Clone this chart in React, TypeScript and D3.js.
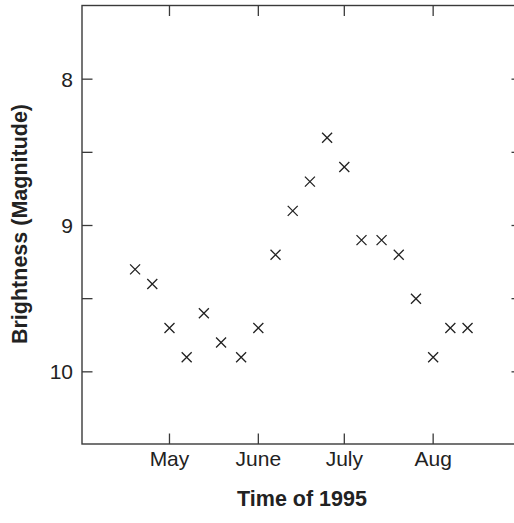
import React, { useEffect, useRef } from "react";
import * as d3 from "d3";

const obsDates = [
  "1995-04-19", "1995-04-25", "1995-05-01", "1995-05-07", "1995-05-13",
  "1995-05-19", "1995-05-26", "1995-06-01", "1995-06-07", "1995-06-13",
  "1995-06-19", "1995-06-25", "1995-07-01", "1995-07-07", "1995-07-14",
  "1995-07-20", "1995-07-26", "1995-08-01", "1995-08-07", "1995-08-13"
];
const magnitudes = [
  9.3, 9.4, 9.7, 9.9, 9.6, 9.8, 9.9, 9.7, 9.2, 8.9,
  8.7, 8.4, 8.6, 9.1, 9.1, 9.2, 9.5, 9.9, 9.7, 9.7
];
const monthTicks = ["1995-05-01", "1995-06-01", "1995-07-01", "1995-08-01"];
const monthLabels = ["May", "June", "July", "Aug"];
const magTicks = [8, 8.5, 9, 9.5, 10];
const magLabels = ["8", "", "9", "", "10"];

const W = 514;
const H = 523;
const FONT = "'Liberation Sans', Arial, Helvetica, sans-serif";
const INK = "#222";
const FRAME = "#3a3a3a";

const App = () => {
  const ref = useRef<SVGSVGElement>(null);

  useEffect(() => {
    const svg = d3.select(ref.current);
    svg.selectAll("*").remove();

    const parse = d3.timeParse("%Y-%m-%d");
    const left = 82, top = 5.5, right = 522, bottom = 444;

    const x = d3
      .scaleTime()
      .domain([parse("1995-04-01")!, parse("1995-09-01")!])
      .range([83.5, 522]);
    const y = d3.scaleLinear().domain([7.5, 10.5]).range([6, 445]);

    const tickLen = 10.5;

    // frame
    svg
      .append("rect")
      .attr("x", left)
      .attr("y", top)
      .attr("width", right - left)
      .attr("height", bottom - top)
      .attr("fill", "none")
      .attr("stroke", FRAME)
      .attr("stroke-width", 1.4);

    const ticks = svg.append("g").attr("stroke", FRAME).attr("stroke-width", 1.3);

    // month ticks, top and bottom, pointing inward
    monthTicks.forEach(m => {
      const px = x(parse(m)!);
      ticks.append("line").attr("x1", px).attr("x2", px).attr("y1", bottom).attr("y2", bottom - tickLen);
      ticks.append("line").attr("x1", px).attr("x2", px).attr("y1", top).attr("y2", top + tickLen);
    });

    // magnitude ticks, left and right
    magTicks.forEach(v => {
      const py = y(v);
      ticks.append("line").attr("x1", left).attr("x2", left + tickLen).attr("y1", py).attr("y2", py);
      ticks.append("line").attr("x1", right).attr("x2", right - tickLen).attr("y1", py).attr("y2", py);
    });

    // tick labels
    svg
      .append("g")
      .selectAll("text")
      .data(monthTicks)
      .join("text")
      .attr("x", d => x(parse(d)!))
      .attr("y", 466)
      .attr("text-anchor", "middle")
      .attr("font-family", FONT)
      .attr("font-size", 21)
      .attr("fill", INK)
      .text((d, i) => monthLabels[i]);

    svg
      .append("g")
      .selectAll("text")
      .data(magTicks)
      .join("text")
      .attr("x", 73)
      .attr("y", d => y(d))
      .attr("dy", "0.35em")
      .attr("text-anchor", "end")
      .attr("font-family", FONT)
      .attr("font-size", 21)
      .attr("fill", INK)
      .text((d, i) => magLabels[i]);

    // axis titles
    svg
      .append("text")
      .attr("x", (left + right) / 2)
      .attr("y", 506)
      .attr("text-anchor", "middle")
      .attr("font-family", FONT)
      .attr("font-size", 21.5)
      .attr("font-weight", "bold")
      .attr("fill", INK)
      .text("Time of 1995");

    svg
      .append("text")
      .attr("transform", "translate(27,224) rotate(-90)")
      .attr("text-anchor", "middle")
      .attr("font-family", FONT)
      .attr("font-size", 21.5)
      .attr("font-weight", "bold")
      .attr("fill", INK)
      .text("Brightness (Magnitude)");

    // data markers
    const marker = d3.symbol().type(d3.symbolTimes).size(67);
    svg
      .append("g")
      .selectAll("path")
      .data(obsDates)
      .join("path")
      .attr("transform", (d, i) => `translate(${x(parse(d)!)},${y(magnitudes[i])})`)
      .attr("d", marker())
      .attr("fill", "none")
      .attr("stroke", INK)
      .attr("stroke-width", 1.3);
  }, []);

  return (
    <svg
      ref={ref}
      width={W}
      height={H}
      style={{ position: "absolute", left: 0, top: 0, background: "#fff" }}
    />
  );
};

export default App;
